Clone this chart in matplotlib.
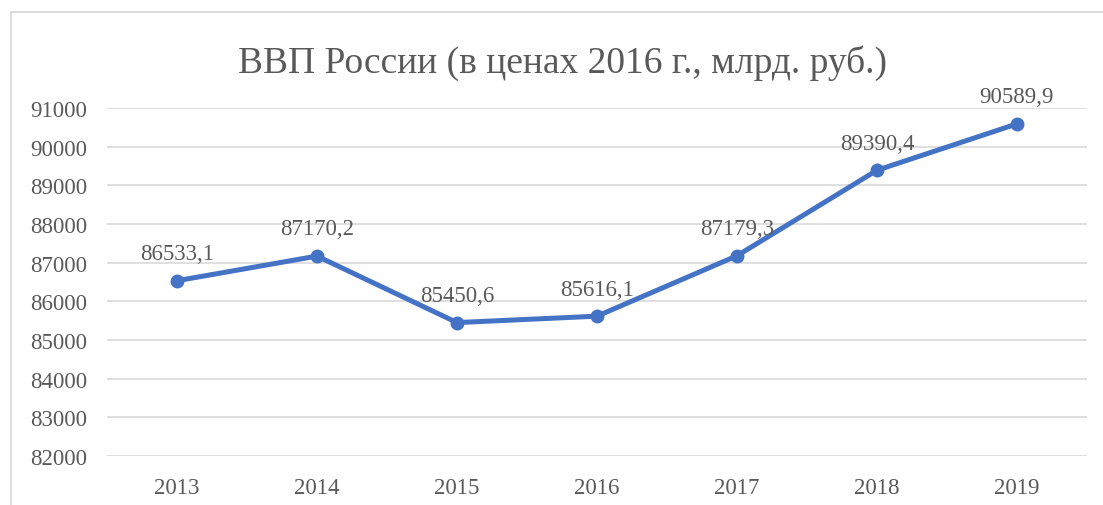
import matplotlib
matplotlib.use("Agg")
import matplotlib.pyplot as plt
from matplotlib.lines import Line2D

years = ["2013", "2014", "2015", "2016", "2017", "2018", "2019"]
gdp = [86533.1, 87170.2, 85450.6, 85616.1, 87179.3, 89390.4, 90589.9]
labels = ["86533,1", "87170,2", "85450,6", "85616,1", "87179,3", "89390,4", "90589,9"]
yticks = list(range(82000, 91001, 1000))
title = "ВВП России (в ценах 2016 г., млрд. руб.)"

plt.rcParams['font.family'] = ['Liberation Serif', 'DejaVu Serif']
text_color = "#595959"
W, H = 1103, 506
fig = plt.figure(figsize=(W / 100, H / 100), dpi=100)
fig.patch.set_facecolor("white")

# outer chart border (top and left edges only visible)
bx, by = 10.5 / W, 1 - 13 / H
fig.lines.append(Line2D([bx, 1.01], [by, by], transform=fig.transFigure,
                        color="#D9D9D9", linewidth=1.3))
fig.lines.append(Line2D([bx, bx], [-0.01, by], transform=fig.transFigure,
                        color="#D9D9D9", linewidth=1.3))

ax = fig.add_axes([107 / W, (H - 457) / H, 980 / W, 348 / H])
x = list(range(len(years)))
ax.plot(x, gdp, color="#4472C4", linewidth=3.6, marker="o", markersize=9,
        solid_capstyle="round", zorder=3)
for xi, yi, lab in zip(x, gdp, labels):
    ax.annotate(lab, (xi, yi), xytext=(0, 12), textcoords="offset points",
                ha="center", va="bottom", fontsize=16.5, color=text_color)

ax.set_xlim(-0.5, len(years) - 0.5)
ax.set_ylim(yticks[0], yticks[-1])
ax.set_yticks(yticks)
ax.set_yticklabels([str(v) for v in yticks])
ax.set_xticks(x)
ax.set_xticklabels(years)
ax.tick_params(axis="y", length=0, pad=14, labelsize=16.5, labelcolor=text_color)
ax.tick_params(axis="x", length=0, pad=15, labelsize=16.5, labelcolor=text_color)
ax.grid(axis="y", color="#D9D9D9", linewidth=1.2)
ax.set_axisbelow(True)
for s in ax.spines.values():
    s.set_visible(False)

fig.text(563 / W, 1 - 63 / H, title, ha="center", va="center",
         fontsize=27, color=text_color)

fig.savefig("out.png", dpi=100)
